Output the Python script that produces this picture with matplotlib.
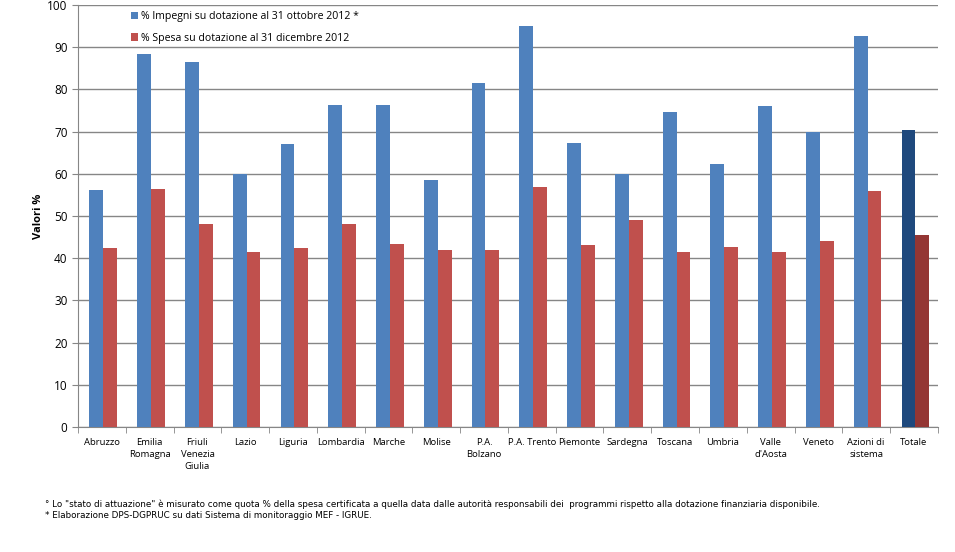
import matplotlib
matplotlib.use("Agg")
import matplotlib.pyplot as plt
import numpy as np

regioni = ["Abruzzo", "Emilia\nRomagna", "Friuli\nVenezia\nGiulia", "Lazio", "Liguria",
           "Lombardia", "Marche", "Molise", "P.A.\nBolzano", "P.A. Trento", "Piemonte",
           "Sardegna", "Toscana", "Umbria", "Valle\nd'Aosta", "Veneto", "Azioni di\nsistema",
           "Totale"]
impegni = [56.2, 88.5, 86.4, 60.0, 67.0, 76.2, 76.3, 58.5, 81.6, 95.0, 67.3, 60.0, 74.6,
           62.3, 76.1, 70.0, 92.6, 70.3]
spesa = [42.3, 56.3, 48.2, 41.5, 42.3, 48.2, 43.3, 41.9, 42.0, 56.8, 43.1, 49.0, 41.4,
         42.7, 41.5, 44.0, 56.0, 45.6]

plt.rcParams['font.family'] = ['Open Sans', 'DejaVu Sans']

fig = plt.figure(figsize=(9.55, 5.52), dpi=100)
ax = fig.add_axes([0.0817, 0.2264, 0.9003, 0.7646])

x = np.arange(len(regioni))
w = 0.29
blu = ['#4F81BD'] * (len(regioni) - 1) + ['#1F497D']
rosso = ['#C0504D'] * (len(regioni) - 1) + ['#943634']
ax.bar(x - w / 2 + 0.03, impegni, w, color=blu, zorder=3,
       label='% Impegni su dotazione al 31 ottobre 2012 *')
ax.bar(x + w / 2 + 0.03, spesa, w, color=rosso, zorder=3,
       label='% Spesa su dotazione al 31 dicembre 2012')

ax.set_xlim(-0.5, len(regioni) - 0.5)
ax.set_ylim(0, 100)
ax.set_yticks(range(0, 101, 10))
ax.yaxis.grid(True, color='#868686', linewidth=1, zorder=0)
for s in ['top', 'right']:
    ax.spines[s].set_visible(False)
ax.spines['left'].set_color('#868686')
ax.spines['bottom'].set_color('#868686')
ax.tick_params(axis='y', colors='#868686', labelcolor='black', labelsize=8.5, length=4)

ax.set_xticks(x)
ax.set_xticklabels(regioni, fontsize=6.8, va='top', linespacing=1.45)
ax.tick_params(axis='x', length=0, pad=8)
ax.set_xticks(np.arange(-0.5, len(regioni)), minor=True)
ax.tick_params(axis='x', which='minor', length=4, colors='#868686')

ax.set_ylabel('Valori %', fontsize=8, fontweight='bold', labelpad=2)

leg = ax.legend(loc='upper left', bbox_to_anchor=(0.05, 1.008), frameon=False,
                fontsize=7.6, handlelength=0.7, handleheight=0.7, handletextpad=0.3,
                labelspacing=1.0)

fig.text(0.047, 0.082, '° Lo "stato di attuazione" è misurato come quota % della spesa certificata a quella data dalle '
         'autorità responsabili dei  programmi rispetto alla dotazione finanziaria disponibile.',
         fontsize=6.3, family=['DejaVu Sans'])
fig.text(0.047, 0.062, '* Elaborazione DPS-DGPRUC su dati Sistema di monitoraggio MEF - IGRUE.',
         fontsize=6.3, family=['DejaVu Sans'])

fig.savefig('out.png', dpi=100)
